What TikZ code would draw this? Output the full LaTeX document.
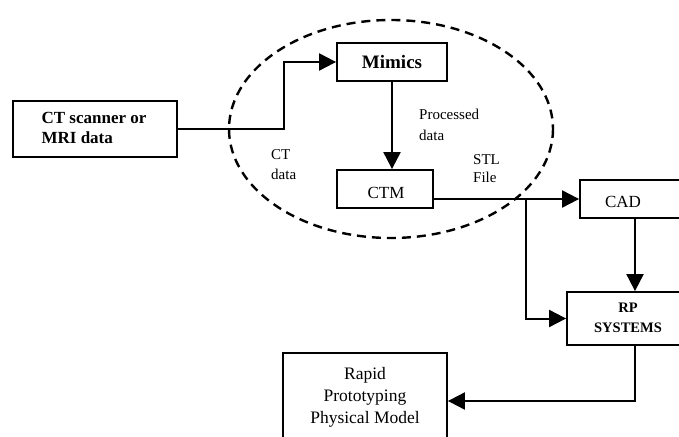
\documentclass[tikz,border=0pt]{standalone}
\usepackage{fontspec}
\setmainfont{Liberation Serif}
\usetikzlibrary{arrows.meta}
\begin{document}
\begin{tikzpicture}[x=1pt,y=-1pt,
  box/.style={draw,line width=1.8pt,rectangle,inner sep=0pt,fill=white},
  conn/.style={line width=2pt,-{Triangle[length=17pt,width=17pt]}},
  small/.style={font=\fontsize{15}{20}\selectfont,align=left,inner sep=0pt},
  big/.style={font=\fontsize{17}{20}\selectfont,inner sep=0pt,align=center}]
\useasboundingbox (0,0) rectangle (679,436);
\clip (0,0) rectangle (679,436);
% dashed ellipse
\draw[line width=2.4pt,dash pattern=on 9pt off 6pt] (391,129) ellipse [x radius=162,y radius=109];
% boxes
\node[box,minimum width=164pt,minimum height=56pt] (ct) at (95,129) {};
\node[big,font=\fontsize{17}{20}\selectfont\bfseries,align=left] (cttext) at (94,128) {CT scanner or\\MRI data};
\node[box,minimum width=110pt,minimum height=38pt,font=\fontsize{19}{22}\selectfont\bfseries] (mimics) at (392,62) {Mimics};
\node[box,minimum width=96pt,minimum height=38pt] (ctm) at (385,189) {};
\node[big] (ctmtext) at (386,193) {CTM};
\node[box,minimum width=120pt,minimum height=38pt] (cad) at (640,199) {};
\node[big] (cadtext) at (623,202) {CAD};
\node[box,minimum width=122pt,minimum height=53pt] (rp) at (628,318.5) {};
\node[big,font=\fontsize{14.5}{20}\selectfont\bfseries] (rptext) at (628,318) {RP\\SYSTEMS};
\node[box,minimum width=164pt,minimum height=96pt] (rapid) at (365,401) {};
\node[big,font=\fontsize{17.5}{22}\selectfont] (rapidtext) at (365,397) {Rapid\\Prototyping\\Physical Model};
% labels
\node[small,anchor=north west] (lct) at (271,149) {CT\\data};
\node[small,anchor=north west,font=\fontsize{15}{21}\selectfont] (lproc) at (419,109) {Processed\\data};
\node[small,anchor=north west,font=\fontsize{15}{18}\selectfont] (lstl) at (473,154) {STL\\File};
% coordinates
\coordinate (bend) at (284,129);
\coordinate (br) at (526,198);
\coordinate (colx) at (635,0);
% connectors
\draw[conn] (ct.east) -- (bend) |- (mimics.west);
\draw[conn] (mimics.south) -- (mimics.south |- ctm.north);
\draw[conn] (ctm.east |- cad.west) -- (cad.west);
\draw[conn] (br) |- (rp.west);
\draw[conn] (cad.south -| colx) -- (rp.north -| colx);
\draw[conn] (rp.south -| colx) |- (rapid.east);
\end{tikzpicture}
\end{document}
